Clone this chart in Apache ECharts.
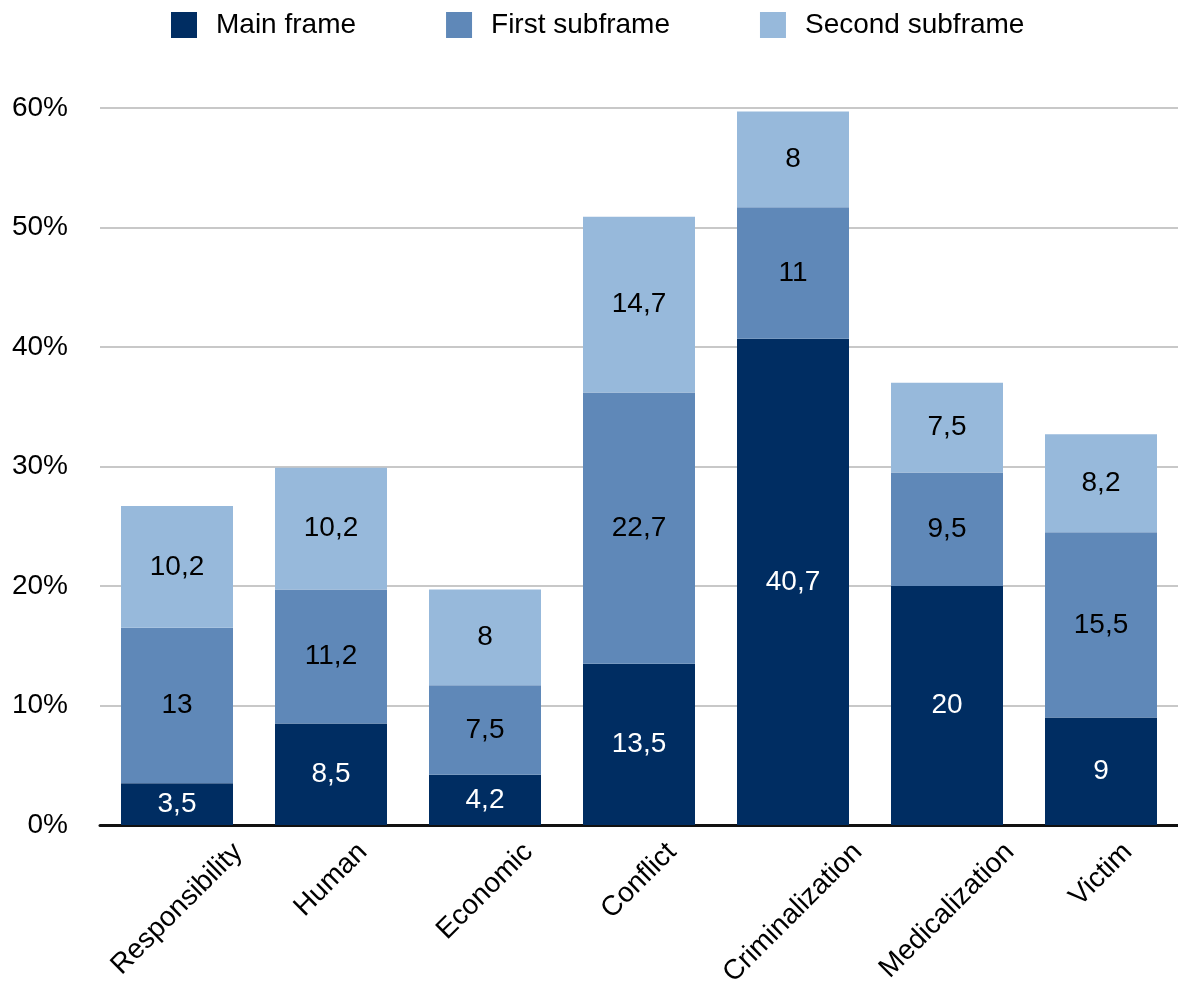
<!DOCTYPE html>
<html>
<head>
<meta charset="utf-8">
<style>
  html, body { margin: 0; padding: 0; background: #fff; }
  #chart { width: 1178px; height: 992px; }
</style>
<script src="https://cdn.jsdelivr.net/npm/echarts@6/dist/echarts.min.js"></script>
</head>
<body>
<div id="chart"></div>
<script>
// Frame categories and the share (%) of each frame level
const categories = ['Responsibility', 'Human', 'Economic', 'Conflict', 'Criminalization', 'Medicalization', 'Victim'];
const mainFrame = [3.5, 8.5, 4.2, 13.5, 40.7, 20, 9];
const firstSubframe = [13, 11.2, 7.5, 22.7, 11, 9.5, 15.5];
const secondSubframe = [10.2, 10.2, 8, 14.7, 8, 7.5, 8.2];
const seriesNames = ['Main frame', 'First subframe', 'Second subframe'];
const yTicks = { min: 0, max: 60, interval: 10 };

const FONT = '"Liberation Sans", Arial, Helvetica, sans-serif';
const FONT_SIZE = 28;
const colors = ['#002D62', '#5F88B8', '#97B9DB'];

// measure label widths for the diagonal category labels
const measureCtx = document.createElement('canvas').getContext('2d');
measureCtx.font = FONT_SIZE + 'px ' + FONT;
function textWidth(t) { return measureCtx.measureText(t).width; }

function commaValue(p) { return String(p.value).replace('.', ','); }

function barSeries(name, data, color, labelColor) {
  return {
    name: name,
    type: 'bar',
    stack: 'frames',
    data: data,
    barWidth: 112,
    itemStyle: { color: color },
    label: {
      show: true,
      position: 'inside',
      formatter: commaValue,
      color: labelColor,
      fontSize: FONT_SIZE,
      fontFamily: FONT
    },
    emphasis: { disabled: true },
    z: 3
  };
}

const chart = echarts.init(document.getElementById('chart'), null, { renderer: 'canvas' });

chart.setOption({
  animation: false,
  backgroundColor: '#ffffff',
  legend: {
    data: seriesNames,
    top: 6,
    left: 166,
    itemWidth: 26,
    itemHeight: 26,
    itemGap: 90,
    icon: 'rect',
    selectedMode: false,
    textStyle: {
      fontSize: FONT_SIZE,
      fontFamily: FONT,
      color: '#000',
      padding: [0, 0, 0, 14]
    }
  },
  grid: { left: 100, right: -5, top: 108, bottom: 167 },
  xAxis: {
    type: 'category',
    data: categories,
    axisLine: { show: true, lineStyle: { color: '#111', width: 3 } },
    axisTick: { show: false },
    axisLabel: { show: false },
    splitLine: { show: false }
  },
  yAxis: {
    type: 'value',
    min: yTicks.min,
    max: yTicks.max,
    interval: yTicks.interval,
    axisLine: { show: false },
    axisTick: { show: false },
    axisLabel: {
      formatter: '{value}%',
      fontSize: FONT_SIZE,
      fontFamily: FONT,
      color: '#000',
      margin: 32
    },
    splitLine: { lineStyle: { color: '#C8C8C8', width: 2 } }
  },
  series: [
    barSeries(seriesNames[0], mainFrame, colors[0], '#ffffff'),
    barSeries(seriesNames[1], firstSubframe, colors[1], '#000000'),
    barSeries(seriesNames[2], secondSubframe, colors[2], '#000000'),
    {
      // diagonal category labels centred under each bar
      type: 'custom',
      silent: true,
      clip: false,
      data: categories.map((c, i) => [i, 0]),
      encode: { x: 0, y: 1 },
      renderItem: function (params, api) {
        const idx = api.value(0);
        const name = categories[idx];
        const p = api.coord([idx, 0]);
        const w = textWidth(name);
        const half = (w + FONT_SIZE) * Math.SQRT1_2 / 2;
        return {
          type: 'text',
          x: p[0],
          y: p[1] + 13 + half,
          rotation: Math.PI / 4,
          style: {
            text: name,
            fontSize: FONT_SIZE,
            fontFamily: FONT,
            fill: '#000',
            align: 'center',
            verticalAlign: 'middle'
          }
        };
      },
      z: 5
    }
  ]
});
</script>
</body>
</html>
